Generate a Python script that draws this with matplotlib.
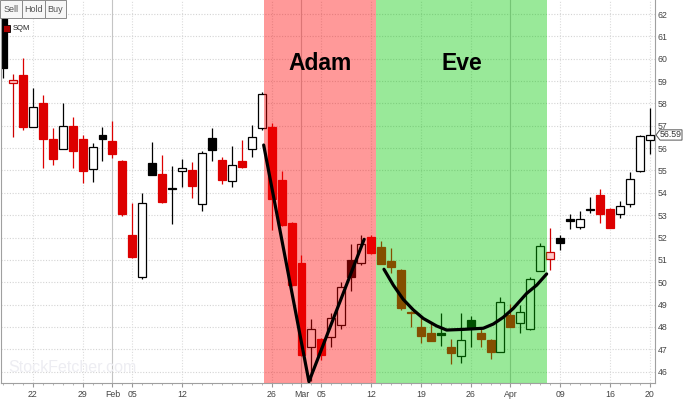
import matplotlib
matplotlib.use("Agg")
import matplotlib.pyplot as plt
import matplotlib.transforms as mtransforms
from matplotlib.patches import Rectangle, Polygon

plt.rcParams['font.family'] = ['Liberation Sans', 'DejaVu Sans']

# daily candles, SQM, 17 Jan - 20 Apr 2007 (index = trading day)
opens = [59.58, 58.90, 59.27, 56.96, 58.03, 56.42, 55.97, 57.00, 56.39, 55.05,
         56.39, 56.32, 55.42, 52.11, 50.22, 54.80, 54.84, 54.15, 54.99, 55.02,
         53.51, 55.92, 55.47, 54.53, 55.42, 55.95, 56.89, 56.93, 54.57, 52.63,
         50.84, 47.12, 47.44, 47.56, 48.08, 50.25, 50.87, 52.04, 51.56, 50.96,
         50.55, 48.67, 47.98, 47.74, 47.66, 47.12, 46.70, 47.94, 47.74, 47.41,
         46.89, 48.54, 48.19, 47.89, 50.52, 51.02, 51.77, 52.76, 52.46, 53.24,
         53.90, 53.29, 53.05, 53.50, 54.99, 56.35]
highs = [62.40, 59.30, 60.02, 58.67, 58.38, 56.88, 58.00, 57.38, 56.59, 56.21,
         56.93, 57.23, 55.45, 53.56, 53.98, 56.29, 55.69, 55.20, 55.51, 55.39,
         55.88, 56.89, 55.62, 56.09, 56.36, 57.03, 58.50, 57.14, 54.99, 52.70,
         51.22, 48.34, 47.50, 48.61, 50.02, 51.71, 52.11, 52.10, 51.86, 51.52,
         50.58, 48.70, 48.43, 48.16, 48.64, 47.44, 48.61, 48.50, 47.94, 47.45,
         49.35, 49.02, 48.98, 50.22, 51.77, 52.41, 52.11, 53.05, 53.19, 53.80,
         54.16, 53.30, 53.63, 54.95, 56.60, 57.78]
lows = [59.14, 56.50, 56.81, 56.96, 55.10, 55.24, 55.97, 55.10, 54.42, 54.50,
        55.44, 55.54, 52.95, 51.10, 50.14, 54.80, 53.53, 52.60, 54.25, 53.75,
        53.20, 55.44, 54.38, 54.27, 55.10, 55.62, 56.80, 52.34, 52.50, 49.85,
        46.70, 45.60, 46.52, 47.12, 47.89, 49.62, 50.77, 51.25, 50.80, 50.43,
        48.76, 48.01, 47.27, 47.38, 47.15, 46.34, 46.37, 47.12, 47.12, 46.55,
        46.89, 47.98, 47.71, 47.85, 50.50, 50.55, 51.44, 52.37, 52.37, 53.11,
        52.66, 52.44, 52.86, 53.35, 54.95, 55.74]
closes = [62.00, 59.05, 56.96, 57.85, 56.39, 55.50, 57.00, 55.88, 54.98, 56.06,
          56.59, 55.74, 53.05, 51.14, 53.56, 55.35, 53.57, 54.20, 55.10, 54.30,
          55.77, 56.44, 54.57, 55.24, 55.14, 56.48, 58.42, 53.71, 52.56, 49.87,
          46.74, 47.89, 46.74, 48.38, 49.80, 50.99, 51.71, 51.29, 50.81, 50.67,
          48.83, 48.61, 47.59, 47.38, 47.70, 46.82, 47.41, 48.31, 47.44, 46.89,
          49.13, 47.98, 48.68, 50.13, 51.63, 51.36, 51.99, 52.80, 52.81, 53.28,
          53.04, 52.44, 53.41, 54.60, 56.54, 56.59]
# r = red, w = hollow, k = black, p = pink hollow
styles = ['k', 'p', 'r', 'w', 'r', 'r', 'w', 'r', 'r', 'w',
          'k', 'r', 'r', 'r', 'w', 'k', 'r', 'k', 'w', 'r',
          'w', 'k', 'r', 'w', 'r', 'w', 'w', 'r', 'r', 'r',
          'r', 'w', 'r', 'w', 'w', 'k', 'w', 'r', 'r', 'r',
          'r', 'r', 'r', 'r', 'k', 'r', 'w', 'k', 'r', 'r',
          'w', 'r', 'w', 'w', 'w', 'p', 'k', 'k', 'w', 'k',
          'r', 'r', 'w', 'w', 'w', 'w']

tick_pos = [3, 8, 11, 13, 18, 27, 30, 32, 37, 42, 47, 51, 56, 61, 65]
tick_labels = ['22', '29', 'Feb', '05', '12', '26', 'Mar', '05', '12', '19',
               '26', 'Apr', '09', '16', '20']
month_pos = [11, 30, 51]

# pattern regions and hand-drawn lines
adam_span = (26.2, 37.5)
eve_span = (37.5, 54.7)
adam_x = [26.2, 30.75, 36.3]
adam_y = [56.14, 45.55, 51.92]
eve_x = [38.29, 39.23, 40.23, 41.24, 42.24, 43.59, 44.59, 46.27, 48.27,
         49.28, 50.28, 51.29, 52.63, 53.64, 54.64]
eve_y = [50.58, 49.87, 49.23, 48.76, 48.38, 48.04, 47.86, 47.89, 47.94,
         48.13, 48.43, 48.83, 49.50, 49.87, 50.37]
last_price = 56.59

colors = {
    'r': ('#dd0000', '#dd0000', '#dd0000'),
    'w': ('white', 'black', 'black'),
    'k': ('black', 'black', 'black'),
    'p': ('#ffc8c8', '#cc0000', '#cc0000'),
}

fig = plt.figure(figsize=(6.85, 4.0), dpi=100)
ax = fig.add_axes([1 / 685, 17 / 400, 654 / 685, 383 / 400])

idx = list(range(len(opens)))
for i in idx:
    face, edge, wick = colors[styles[i]]
    ax.vlines(i, lows[i], highs[i], color=wick, lw=0.9, zorder=2)
    lo = min(opens[i], closes[i])
    h = max(abs(closes[i] - opens[i]), 0.05)
    ax.bar(i, h, bottom=lo, width=0.8, facecolor=face, edgecolor=edge,
           linewidth=0.9, zorder=2.5)

ax.axvspan(*adam_span, color='#ff0000', alpha=0.4, lw=0, zorder=3)
ax.axvspan(*eve_span, color='#00c800', alpha=0.4, lw=0, zorder=3)

ax.plot(adam_x, adam_y, color='black', lw=2.3, zorder=4,
        solid_joinstyle='round', solid_capstyle='round')
ax.plot(eve_x, eve_y, color='black', lw=2.3, zorder=4,
        solid_joinstyle='round', solid_capstyle='round')

ax.text(sum(adam_span) / 2, 59.77, 'Adam', fontsize=16.5, fontweight='bold',
        ha='center', va='center', zorder=5)
ax.text(sum(eve_span) / 2, 59.77, 'Eve', fontsize=16.5, fontweight='bold',
        ha='center', va='center', zorder=5)

ax.set_xlim(-0.2, 65.53)
ax.set_ylim(45.49, 62.63)

# grid
for p in range(46, 63):
    ax.axhline(p, color='#d4d4d4', lw=0.8, ls=(0, (1, 1.5)), zorder=1)
for p in tick_pos:
    if p in month_pos:
        ax.axvline(p, color='#c4c4c4', lw=0.8, zorder=1)
    else:
        ax.axvline(p, color='#dcdcdc', lw=0.8, ls=(0, (1, 1.5)), zorder=1)

ax.set_xticks(tick_pos)
ax.set_xticklabels(tick_labels)
ax.set_xticks(idx, minor=True)
ax.yaxis.tick_right()
ax.set_yticks(range(46, 63))
ax.tick_params(axis='y', length=0, pad=2, labelsize=6.3, labelcolor='#444444')
ax.tick_params(axis='x', which='major', length=3, pad=2, labelsize=6.3,
               labelcolor='#444444', color='#999999')
ax.tick_params(axis='x', which='minor', length=1.5, color='#aaaaaa')
for s in ['left', 'right', 'bottom', 'top']:
    ax.spines[s].set_color('#a0a0a0')
    ax.spines[s].set_linewidth(0.8)
ax.spines['top'].set_visible(False)

# last price flag on the right axis
trans = mtransforms.blended_transform_factory(ax.transAxes, ax.transData)
w = 1 / 654
flag = Polygon([(1.0 + 1 * w, last_price), (1.0 + 5 * w, last_price + 0.23),
                (1.0 + 27 * w, last_price + 0.23), (1.0 + 27 * w, last_price - 0.23),
                (1.0 + 5 * w, last_price - 0.23)], closed=True, transform=trans,
               facecolor='white', edgecolor='#555555', lw=0.7, clip_on=False,
               zorder=6)
ax.add_patch(flag)
ax.text(1.0 + 16 * w, last_price, f'{last_price:.2f}', transform=trans,
        fontsize=6.3, color='#333333', ha='center', va='center', zorder=7)


def px(x, y):
    return x / 685, 1 - y / 400


# Sell / Hold / Buy buttons
for x0, x1, lab in [(0, 22, 'Sell'), (22, 45, 'Hold'), (45, 66, 'Buy')]:
    fig.add_artist(Rectangle(px(x0, 18), (x1 - x0) / 685, 18 / 400,
                             transform=fig.transFigure, facecolor='#f7f7f7',
                             edgecolor='#8a8a8a', lw=0.7, zorder=10))
    fig.text(*px((x0 + x1) / 2, 9.5), lab, fontsize=6.5, color='#555555',
             ha='center', va='center', zorder=11)

# legend marker
fig.add_artist(Rectangle(px(3, 32), 7 / 685, 7 / 400, transform=fig.transFigure,
                         facecolor='#aa0000', edgecolor='black', lw=0.6, zorder=10))
fig.text(*px(12.5, 29), 'SQM', fontsize=5.5, color='#222222', ha='left',
         va='center', zorder=11)

# watermark
fig.text(*px(8, 367), 'StockFetcher.com', fontsize=11.5, color='#ededf2',
         ha='left', va='center', zorder=0.5)

fig.savefig('out.png', dpi=100)
